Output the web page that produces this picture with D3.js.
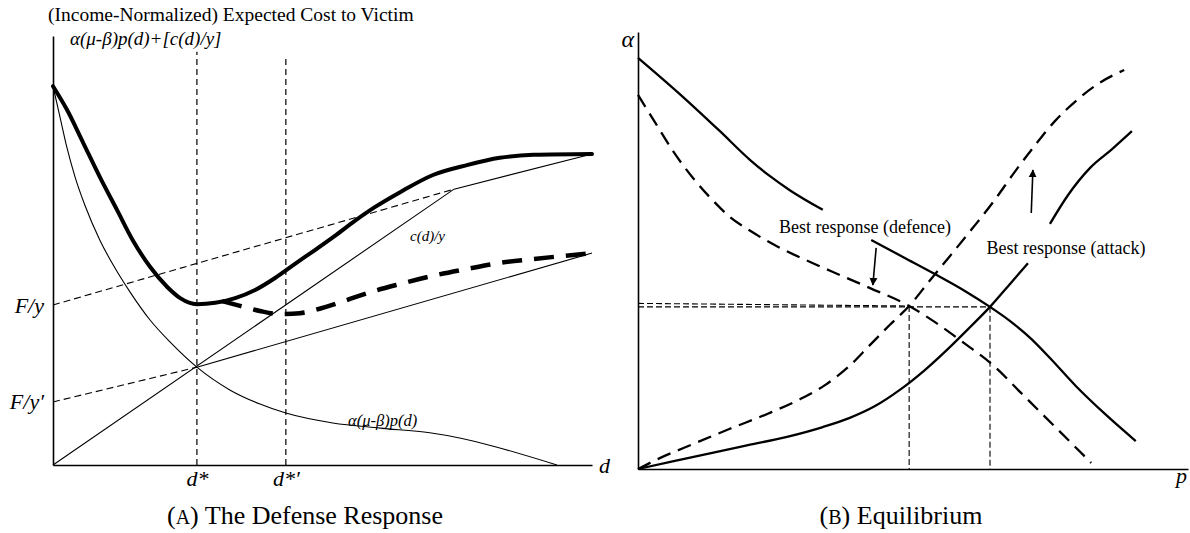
<!DOCTYPE html>
<html><head><meta charset="utf-8">
<script src="https://cdn.jsdelivr.net/npm/d3@7/dist/d3.min.js"></script>
<style>
body{margin:0;background:#fff;}
svg text{font-family:"Liberation Serif","Times New Roman",Times,serif;fill:#000;}
</style>
</head><body>
<svg id="c" width="1190" height="533"></svg>
<script>
// ---------- Panel A data (arbitrary units, 0..100) ----------
const totalCost = [[0,88.3],[2.6,82.8],[5.6,75.1],[8.7,67.1],[11.9,59.4],[14.8,52.4],[18.0,46.2],[21.2,41.5],[23.6,38.9],[26.7,37.5],[30.1,37.8],[33.8,38.9],[37.5,40.8],[41.2,43.6],[44.9,46.9],[48.6,50.1],[52.3,53.4],[56.0,56.9],[59.7,60.1],[64.4,63.6],[70.5,67.6],[76.8,69.9],[82.9,71.6],[89.1,72.3],[100,72.5]];
const newTotalCost = [[31.4,38.2],[34.7,37.1],[38.4,35.9],[42.1,35.2],[45.8,35.4],[50.5,36.8],[55.1,38.7],[59.7,40.6],[64.4,42.2],[70.5,44.1],[76.8,45.7],[82.9,47.1],[89.1,48.0],[100,49.4]];
const pCurve = [[0,88.3],[1.3,81.1],[2.6,73.9],[4.1,67.1],[5.9,60.6],[8.7,52.4],[11.5,45.9],[14.3,40.3],[18.0,33.8],[21.7,28.7],[26.7,22.8],[32.8,17.5],[38.4,14.2],[43.2,12.1],[51.9,9.8],[60.7,8.6],[69.9,7.5],[93.5,0]];
const costLine = [[0,0],[74.4,64.3],[100,72.5]];
const costLineNew = [[26.7,22.8],[100,49.4]];
const fyDashed = [[0,37.3],[74.4,64.3]];
const fyPrimeDashed = [[0,14.7],[26.7,22.8]];
const dTicks = [26.7, 43.2];
const dTickLabels = ["d*", "d*\u2032"];
const dGuideTops = [96.3, 94.9];
const fTicks = [37.3, 14.7];
const fTickLabels = ["F/y", "F/y\u2032"];

// ---------- Panel B data ----------
const defenceSolid1 = [[0,94.1],[7.6,85.8],[14.9,77.3],[20.4,70.7],[24.0,67.0],[27.6,63.8],[33.6,59.3]];
const defenceSolid2 = [[42.4,52.4],[48.5,48.3],[54.0,44.6],[59.5,40.7],[64.0,37.1],[67.6,33.9],[71.3,30.0],[74.9,25.4],[79.6,19.0],[84.9,12.6],[90.5,6.4]];
const defenceDashed = [[0,85.6],[3.3,78.9],[6.5,72.5],[10.0,66.6],[13.5,61.6],[16.7,57.7],[20.4,54.5],[25.5,50.8],[30.9,47.6],[36.7,44.4],[42.2,41.4],[49.3,37.3],[54.0,33.6],[59.3,28.8],[64.7,23.6],[69.5,17.6],[74.2,11.7],[82.4,1.4]];
const attackSolid1 = [[0,0],[6.5,1.8],[13.5,3.7],[20.2,5.5],[26.9,7.3],[33.6,9.6],[38.5,11.7],[43.1,14.4],[47.6,18.1],[52.2,22.7],[56.7,27.9],[60.4,32.5],[64.0,37.1],[67.6,42.3],[70.9,47.1]];
const attackSolid2 = [[74.9,56.1],[78.2,62.7],[82.2,68.9],[86.2,73.2],[89.8,77.3]];
const attackDashed = [[0,0],[3.3,2.1],[10.0,5.7],[16.7,9.2],[23.5,12.6],[29.5,16.0],[34.0,19.2],[38.2,23.3],[42.2,28.4],[45.8,33.0],[49.3,37.3],[53.1,43.2],[56.7,48.7],[60.7,54.9],[64.7,61.3],[68.5,68.0],[72.2,74.1],[75.8,79.6],[79.6,84.2],[83.6,88.1],[88.4,91.3]];
const equilibria = [[49.3,37.3],[64.0,37.1]];
const equilibriumAxisLevels = [37.9, 37.1];
const arrows = [[[43.3,50.6],[42.7,42.1]],[[71.5,58.6],[71.8,68.4]]];
const labelsB = ["Best response (defence)", "Best response (attack)"];

const FONT = '"Liberation Serif","Times New Roman",Times,serif';
const svg = d3.select("#c");
const defs = svg.append("defs");
defs.append("marker").attr("id","ah").attr("viewBox","0 0 10 10").attr("refX",9).attr("refY",5)
  .attr("markerWidth",8).attr("markerHeight",9).attr("markerUnits","userSpaceOnUse").attr("orient","auto")
  .append("path").attr("d","M0,0L10,5L0,10z").attr("fill","#000");

function txt(g, x, y, size, s, opts={}) {
  const t = g.append("text").attr("x",x).attr("y",y).attr("font-size",size).attr("font-family",FONT).text(s);
  if (opts.italic) t.attr("font-style","italic");
  if (opts.anchor) t.attr("text-anchor",opts.anchor);
  return t;
}

// ===== Panel A =====
const xA = d3.scaleLinear().domain([0,100]).range([53,592]);
const yA = d3.scaleLinear().domain([0,100]).range([465,36]);
const gA = svg.append("g");
const lineA = d3.line().x(d=>xA(d[0])).y(d=>yA(d[1]));
const smoothA = d3.line().x(d=>xA(d[0])).y(d=>yA(d[1])).curve(d3.curveMonotoneX);

dTicks.forEach((t,i)=>{
  gA.append("path").attr("d", lineA([[t,0],[t,dGuideTops[i]]]))
    .attr("fill","none").attr("stroke","#000").attr("stroke-width",1.2).attr("stroke-dasharray","6,4");
});
gA.append("path").attr("d", lineA(fyDashed)).attr("fill","none").attr("stroke","#000").attr("stroke-width",1.1).attr("stroke-dasharray","7,4");
gA.append("path").attr("d", lineA(fyPrimeDashed)).attr("fill","none").attr("stroke","#000").attr("stroke-width",1.1).attr("stroke-dasharray","7,4");
gA.append("path").attr("d", lineA(costLine)).attr("fill","none").attr("stroke","#000").attr("stroke-width",1.1);
gA.append("path").attr("d", lineA(costLineNew)).attr("fill","none").attr("stroke","#000").attr("stroke-width",1.1);
gA.append("path").attr("d", smoothA(pCurve)).attr("fill","none").attr("stroke","#000").attr("stroke-width",1.1);
gA.append("path").attr("d", smoothA(totalCost)).attr("fill","none").attr("stroke","#000").attr("stroke-width",4).attr("stroke-linecap","round");
gA.append("path").attr("d", smoothA(newTotalCost)).attr("fill","none").attr("stroke","#000").attr("stroke-width",4.5).attr("stroke-dasharray","20,12");

const axA_x = d3.axisBottom(xA).tickValues(dTicks).tickFormat((d,i)=>dTickLabels[i]).tickSize(0).tickPadding(5).tickSizeOuter(0);
const gax = gA.append("g").attr("transform",`translate(0,${yA(0)})`).call(axA_x);
gax.select(".domain").attr("stroke-width",1.6);
gax.selectAll("text").attr("font-size",22).attr("font-style","italic").attr("font-family",FONT);
const axA_y = d3.axisLeft(yA).tickValues(fTicks).tickFormat((d,i)=>fTickLabels[i]).tickSize(0).tickPadding(9).tickSizeOuter(0);
const gay = gA.append("g").attr("transform",`translate(${xA(0)},0)`).call(axA_y);
gay.select(".domain").attr("stroke-width",1.6);
gay.selectAll("text").attr("font-size",22).attr("font-style","italic").attr("font-family",FONT);

txt(gA, xA(100)+7, yA(0)+8, 22, "d", {italic:true});
txt(gA, 48, 21, 19.5, "(Income-Normalized) Expected Cost to Victim");
txt(gA, 70, 45, 19, "\u03b1(\u03bc-\u03b2)p(d)+[c(d)/y]", {italic:true});
txt(gA, 410, 241, 15, "c(d)/y", {italic:true});
txt(gA, 348, 426, 16.5, "\u03b1(\u03bc-\u03b2)p(d)", {italic:true});

const capA = gA.append("text").attr("x",305).attr("y",524).attr("font-size",26).attr("font-family",FONT).attr("text-anchor","middle");
capA.append("tspan").text("(");
capA.append("tspan").attr("font-size",20).text("A");
capA.append("tspan").text(") The Defense Response");

// ===== Panel B =====
const xB = d3.scaleLinear().domain([0,100]).range([638,1188]);
const yB = d3.scaleLinear().domain([0,100]).range([469,32]);
const gB = svg.append("g");
const lineB = d3.line().x(d=>xB(d[0])).y(d=>yB(d[1]));
const smoothB = d3.line().x(d=>xB(d[0])).y(d=>yB(d[1])).curve(d3.curveMonotoneX);

equilibria.forEach((e,i)=>{
  gB.append("path").attr("d", lineB([[0,equilibriumAxisLevels[i]],[e[0],e[1]]])).attr("fill","none").attr("stroke","#000").attr("stroke-width",1.1).attr("stroke-dasharray","6,3");
  gB.append("path").attr("d", lineB([[e[0],e[1]],[e[0],0]])).attr("fill","none").attr("stroke","#000").attr("stroke-width",1.1).attr("stroke-dasharray","6,3");
});

[defenceSolid1, defenceSolid2, attackSolid1, attackSolid2].forEach(s=>{
  gB.append("path").attr("d", smoothB(s)).attr("fill","none").attr("stroke","#000").attr("stroke-width",2.3);
});
[defenceDashed, attackDashed].forEach(s=>{
  gB.append("path").attr("d", smoothB(s)).attr("fill","none").attr("stroke","#000").attr("stroke-width",2.3).attr("stroke-dasharray","14,8");
});
arrows.forEach(a=>{
  gB.append("path").attr("d", lineB(a)).attr("fill","none").attr("stroke","#000").attr("stroke-width",1.6).attr("marker-end","url(#ah)");
});

const axB_x = d3.axisBottom(xB).tickValues([]).tickSizeOuter(0);
gB.append("g").attr("transform",`translate(0,${yB(0)})`).call(axB_x).select(".domain").attr("stroke-width",1.6);
const axB_y = d3.axisLeft(yB).tickValues([]).tickSizeOuter(0);
gB.append("g").attr("transform",`translate(${xB(0)},0)`).call(axB_y).select(".domain").attr("stroke-width",1.6);

txt(gB, 634, 47, 24, "\u03b1", {italic:true, anchor:"end"});
txt(gB, 1176, 483, 22, "p", {italic:true});
txt(gB, 865, 233, 18, labelsB[0], {anchor:"middle"});
txt(gB, 1066, 254, 18, labelsB[1], {anchor:"middle"});

const capB = gB.append("text").attr("x",901).attr("y",524).attr("font-size",26).attr("font-family",FONT).attr("text-anchor","middle");
capB.append("tspan").text("(");
capB.append("tspan").attr("font-size",20).text("B");
capB.append("tspan").text(") Equilibrium");
</script>
</body></html>
